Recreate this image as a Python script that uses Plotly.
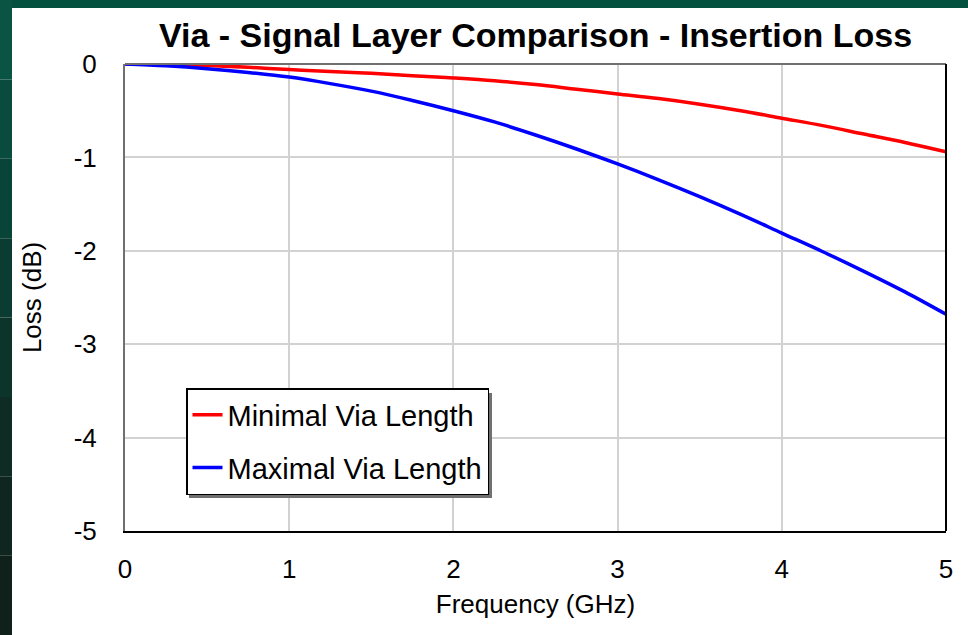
import plotly.graph_objects as go

freq_ghz = [0, 0.25, 0.5, 0.75, 1.0, 1.25, 1.5, 1.75, 2.0, 2.25, 2.5, 2.75,
            3.0, 3.25, 3.5, 3.75, 4.0, 4.25, 4.5, 4.75, 5.0]
minimal_via = [0, -0.005, -0.015, -0.035, -0.06, -0.08, -0.10, -0.125, -0.15, -0.18,
               -0.22, -0.27, -0.32, -0.37, -0.43, -0.50, -0.58, -0.66, -0.75, -0.84, -0.94]
maximal_via = [0, -0.02, -0.05, -0.09, -0.14, -0.21, -0.29, -0.39, -0.50, -0.62,
               -0.76, -0.91, -1.07, -1.24, -1.42, -1.61, -1.81, -2.01, -2.22, -2.44, -2.68]
x_ticks = [0, 1, 2, 3, 4, 5]
y_ticks = [0, -1, -2, -3, -4, -5]

FONT = "Arial, Liberation Sans, sans-serif"

fig = go.Figure()
fig.add_trace(go.Scatter(x=freq_ghz, y=minimal_via, mode="lines", name="Minimal Via Length",
                         legendgroup="a",
                         line=dict(color="#ff0000", width=3.5, shape="spline")))
fig.add_trace(go.Scatter(x=freq_ghz, y=maximal_via, mode="lines", name="Maximal Via Length",
                         legendgroup="b",
                         line=dict(color="#0000ff", width=3.5, shape="spline")))

L, R, T, B = 125, 22, 64, 104
W, H = 968, 635
pw, ph = W - L - R, H - T - B

def px(xp):
    return (xp - L) / pw

def py(yp):
    return (H - B - yp) / ph

shapes = []
# green page frame
shapes.append(dict(type="rect", xref="paper", yref="paper", x0=px(0), x1=px(W), y0=py(8), y1=py(0),
                   fillcolor="#04513f", line=dict(width=0), layer="above"))
greens = ["#0a5443", "#094c3d", "#084437", "#0a3c31", "#0c342b", "#0e2c24", "#0f251f", "#10201b"]
n = len(greens)
for i, c in enumerate(greens):
    y0 = i * H / n
    y1 = (i + 1) * H / n
    shapes.append(dict(type="rect", xref="paper", yref="paper", x0=px(0), x1=px(12),
                       y0=py(y1), y1=py(y0), fillcolor=c, line=dict(width=0), layer="above"))
# plot frame: top gray, right black
shapes.append(dict(type="line", xref="paper", yref="paper", x0=0, x1=1, y0=1, y1=1,
                   line=dict(color="#707070", width=2), layer="above"))
shapes.append(dict(type="line", xref="paper", yref="paper", x0=1, x1=1, y0=0, y1=1,
                   line=dict(color="#000000", width=2), layer="above"))
# legend shadow
shapes.append(dict(type="rect", xref="paper", yref="paper", x0=px(189), x1=px(492),
                   y0=py(498), y1=py(393), fillcolor="#707070", line=dict(width=0), layer="above"))

fig.update_layout(
    width=W, height=H,
    margin=dict(l=L, r=R, t=T, b=B),
    paper_bgcolor="white", plot_bgcolor="white",
    font=dict(family=FONT, color="black"),
    title=dict(text="<b>Via - Signal Layer Comparison - Insertion Loss</b>",
               x=0.5, xref="paper", xanchor="center", y=1 - 35 / H, yanchor="middle",
               font=dict(size=34, family=FONT, color="black")),
    xaxis=dict(range=[0, 5], tickvals=x_ticks, ticktext=[str(v) for v in x_ticks],
               showgrid=True, gridcolor="#d2d2d2", gridwidth=1.5, zeroline=False,
               showline=True, linecolor="#000000", linewidth=2, mirror=False,
               ticks="outside", ticklen=14, tickcolor="rgba(0,0,0,0)",
               tickfont=dict(size=26, family=FONT),
               title=dict(text="Frequency (GHz)", font=dict(size=26, family=FONT), standoff=12)),
    yaxis=dict(range=[-5, 0], tickvals=y_ticks, ticktext=[str(v) for v in y_ticks],
               showgrid=True, gridcolor="#d2d2d2", gridwidth=1.5, zeroline=False,
               showline=True, linecolor="#707070", linewidth=2, mirror=False,
               ticks="outside", ticklen=21, tickcolor="rgba(0,0,0,0)",
               tickfont=dict(size=26, family=FONT),
               title=dict(text="Loss (dB)", font=dict(size=26, family=FONT), standoff=25)),
    legend=dict(x=px(186), y=py(388), xanchor="left", yanchor="top",
                bgcolor="white", bordercolor="black", borderwidth=1.5,
                font=dict(size=29, family=FONT), tracegroupgap=12, itemwidth=30,
                traceorder="grouped"),
    shapes=shapes,
)

fig.write_html("out.html", config={"displayModeBar": False},
               post_script="document.body.style.margin='0';")
